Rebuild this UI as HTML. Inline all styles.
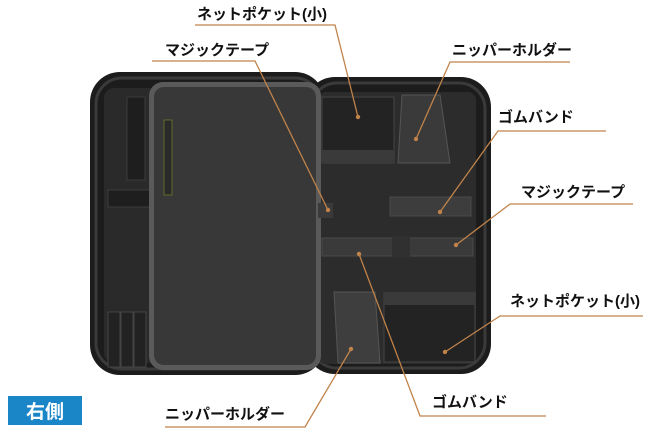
<!DOCTYPE html>
<html><head><meta charset="utf-8"><style>
html,body{margin:0;padding:0;background:#fff;width:650px;height:436px;overflow:hidden}
svg{display:block}
text{font-family:"Liberation Sans","Noto Sans CJK JP",sans-serif;font-weight:bold;font-size:15px;fill:#111}
</style></head><body>
<svg width="650" height="436" viewBox="0 0 650 436">
<rect x="90" y="72" width="235" height="303" rx="30" fill="#1c1c1c"/>
<rect x="96" y="78" width="225" height="291" rx="26" fill="none" stroke="#3a3a3a" stroke-width="3"/>
<rect x="104" y="88" width="215" height="275" rx="10" fill="#2a2a2a"/>
<rect x="305" y="77" width="186" height="297" rx="30" fill="#1c1c1c"/>
<rect x="311" y="83" width="174" height="285" rx="26" fill="none" stroke="#3a3a3a" stroke-width="3"/>
<rect x="318" y="92" width="158" height="272" rx="8" fill="#2c2c2c"/>
<rect x="127" y="97" width="18" height="83" fill="#1e1e1e" stroke="#3c3c3c"/>
<rect x="108" y="190" width="42" height="17" fill="#1e1e1e" stroke="#3c3c3c"/>
<rect x="108" y="312" width="12" height="55" fill="#222" stroke="#444"/>
<rect x="121" y="312" width="12" height="55" fill="#222" stroke="#444"/>
<rect x="134" y="312" width="12" height="55" fill="#222" stroke="#444"/>
<rect x="149" y="82" width="172" height="288" rx="14" fill="#5a5a5a"/>
<rect x="154" y="87" width="162" height="278" rx="10" fill="#383838"/>
<rect x="164" y="120" width="8" height="75" fill="#2a2a2a" stroke="#6a7a30" stroke-width="0.8"/>
<rect x="322" y="97" width="72" height="66" fill="#232323" stroke="#444"/>
<rect x="322" y="150" width="72" height="13" fill="#3a3a3a"/>
<path d="M402 95 L440 95 L450 163 L398 163 Z" fill="#3a3a3a" stroke="#555"/>
<rect x="318" y="203" width="15" height="15" fill="#3a3a3a"/>
<rect x="390" y="197" width="81" height="19" fill="#3d3d3d" stroke="#4a4a4a"/>
<rect x="322" y="238" width="151" height="18" fill="#3a3a3a" stroke="#4a4a4a"/>
<rect x="392" y="236" width="18" height="22" fill="#303030"/>
<path d="M334 292 L375 292 L380 363 L338 363 Z" fill="#3e3e3e" stroke="#555"/>
<rect x="384" y="293" width="91" height="69" fill="#232323" stroke="#444"/>
<rect x="384" y="293" width="91" height="12" fill="#3a3a3a"/>
<g stroke="#c0834a" stroke-width="1.3" fill="none">
<polyline points="195,25 335,25 358,117"/>
<polyline points="152,61 255,61 328,210"/>
<polyline points="570,62 450,62 416,139"/>
<polyline points="606,131 498,131 440,212"/>
<polyline points="633,204 510,204 456,245"/>
<polyline points="643,316 500,316 445,352"/>
<polyline points="546,416 420,416 359,254"/>
<polyline points="165,427 305,427 351,349"/>
</g>
<g fill="#c0834a">
<circle cx="358" cy="117" r="2.2"/><circle cx="328" cy="210" r="2.2"/><circle cx="416" cy="139" r="2.2"/>
<circle cx="440" cy="212" r="2.2"/><circle cx="456" cy="245" r="2.2"/><circle cx="445" cy="352" r="2.2"/>
<circle cx="359" cy="254" r="2.2"/><circle cx="351" cy="349" r="2.2"/>
</g>
<text x="197" y="19">ネットポケット(小)</text>
<text x="165" y="55">マジックテープ</text>
<text x="452" y="55">ニッパーホルダー</text>
<text x="498" y="122">ゴムバンド</text>
<text x="521" y="197">マジックテープ</text>
<text x="510" y="306">ネットポケット(小)</text>
<text x="432" y="407">ゴムバンド</text>
<text x="165" y="419">ニッパーホルダー</text>
<rect x="8" y="396" width="74" height="29" fill="#1a86c8"/>
<text x="45" y="418" text-anchor="middle" style="fill:#fff;font-size:19px">右側</text>
</svg>
</body></html>
